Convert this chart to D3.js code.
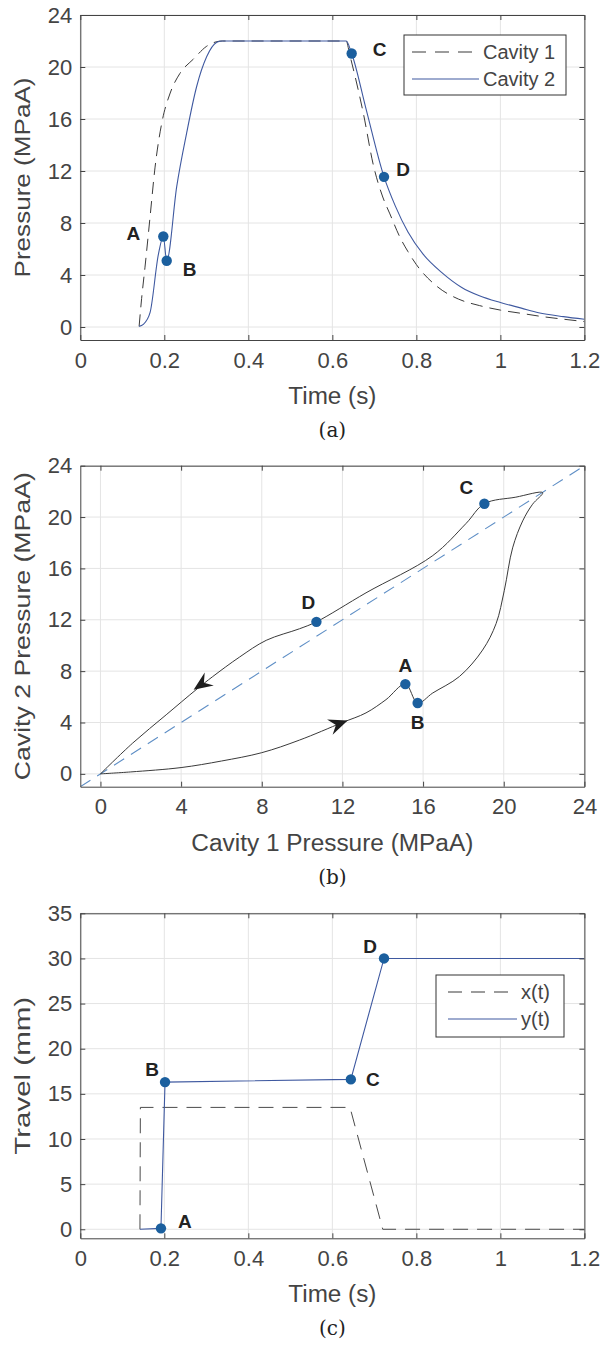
<!DOCTYPE html>
<html><head><meta charset="utf-8">
<script src="https://cdn.jsdelivr.net/npm/d3@7"></script>
<style>body{margin:0;background:#fff}svg{display:block}</style>
</head><body>
<script>
// ---------- Panel (a): pressure vs time ----------
const timeTicks = [0, 0.2, 0.4, 0.6, 0.8, 1.0, 1.2];
const timeTickLabels = ["0", "0.2", "0.4", "0.6", "0.8", "1", "1.2"];
const pressureTicks = [0, 4, 8, 12, 16, 20, 24];
const pressureTickLabels = ["0", "4", "8", "12", "16", "20", "24"];

const cav1Time = [0.140,0.146,0.154,0.166,0.178,0.194,0.214,0.237,0.269,0.301,0.325,0.338,0.633,0.641,0.674,0.698,0.720,0.737,0.761,0.780,0.800,0.850,0.900,0.950,1.000,1.050,1.100,1.150,1.200];
const cav1Pressure = [0.05,2.2,4.6,8.45,12.3,15.7,18.0,19.5,20.6,21.6,21.95,22.0,22.0,21.0,16.4,12.4,10.0,8.7,6.9,5.8,4.8,3.1,2.15,1.65,1.3,1.05,0.8,0.6,0.42];
const cav2Time = [0.140,0.150,0.166,0.186,0.1976,0.2057,0.2295,0.253,0.277,0.301,0.325,0.338,0.633,0.646,0.680,0.723,0.750,0.780,0.816,0.860,0.908,0.950,1.000,1.050,1.091,1.150,1.200];
const cav2Pressure = [0.05,0.2,1.1,5.6,6.96,5.1,10.8,14.9,18.5,20.8,21.9,22.0,22.0,21.04,16.8,11.55,9.3,7.3,5.6,4.2,3.04,2.4,1.88,1.45,1.1,0.8,0.6];
const pointLabels = ["A", "B", "C", "D"];
const markATime = [0.1976, 0.2057, 0.646, 0.723];
const markAPressure = [6.96, 5.1, 21.04, 11.55];

// ---------- Panel (b): cavity 2 vs cavity 1 ----------
const cavTicks = [0, 4, 8, 12, 16, 20, 24];
const cavTickLabels = ["0", "4", "8", "12", "16", "20", "24"];
const loopP1 = [0,1.5,4.0,6.0,8.0,9.87,12.0,13.17,14.16,15.12,15.73,16.48,17.8,18.95,19.62,20.03,20.44,20.94,21.43,21.93,20.6,19.04,18.13,16.48,13.17,10.71,9.87,8.22,6.9,5.57,4.74,3.26,1.6,0];
const loopP2 = [0,0.15,0.49,1.0,1.65,2.63,4.0,4.75,5.78,6.99,5.52,6.3,7.58,9.64,11.7,14.3,17.6,19.7,21.0,21.9,21.55,21.04,19.5,17.0,14.1,11.84,11.3,10.4,9.1,7.58,6.55,4.6,2.4,0];
const diagP = [-1, 24];
const markBP1 = [15.12, 15.73, 19.04, 10.71];
const markBP2 = [6.99, 5.52, 21.04, 11.84];
const arrowP1 = [12.26, 4.62];
const arrowP2 = [4.15, 6.55];
const arrowFromP1 = [12.0, 5.57];
const arrowFromP2 = [4.0, 7.58];

// ---------- Panel (c): travel vs time ----------
const travelTicks = [0, 5, 10, 15, 20, 25, 30, 35];
const travelTickLabels = ["0", "5", "10", "15", "20", "25", "30", "35"];
const xTravelTime = [0.142, 0.143, 0.642, 0.720, 1.2];
const xTravelValue = [0, 13.5, 13.5, 0, 0];
const yTravelTime = [0.142, 0.192, 0.2017, 0.644, 0.723, 1.2];
const yTravelValue = [0, 0.1, 16.3, 16.6, 30.0, 30.0];
const markCTime = [0.192, 0.2017, 0.644, 0.723];
const markCValue = [0.1, 16.3, 16.6, 30.0];

// ---------- drawing ----------
const W = 603, H = 1345;
const svg = d3.select("body").append("svg").attr("width", W).attr("height", H);
const FONT = "'Liberation Sans', Arial, Helvetica, sans-serif";
const TXT = "#444";
const BLUE_LINE = "#3f59a0";
const MARK = "#1b5f9e";

const L = 80.3, R = 584.4;

function panel(o) {
  const g = svg.append("g");
  const x = d3.scaleLinear().domain(o.xDom).range([L, R]);
  const y = d3.scaleLinear().domain(o.yDom).range([o.bottom, o.top]);
  const id = "clip" + o.key;
  svg.append("clipPath").attr("id", id).append("rect")
    .attr("x", L).attr("y", o.top).attr("width", R - L).attr("height", o.bottom - o.top);
  g.append("g").selectAll("line").data(o.xTicks).join("line")
    .attr("x1", d => x(d)).attr("x2", d => x(d)).attr("y1", o.top).attr("y2", o.bottom)
    .attr("stroke", "#e4e4e4").attr("stroke-width", 1);
  g.append("g").selectAll("line").data(o.yTicks).join("line")
    .attr("y1", d => y(d)).attr("y2", d => y(d)).attr("x1", L).attr("x2", R)
    .attr("stroke", "#e4e4e4").attr("stroke-width", 1);
  const plot = g.append("g").attr("clip-path", `url(#${id})`);
  const ax = (gen, tr) => {
    const a = g.append("g").attr("transform", tr).call(gen);
    a.selectAll("path.domain").attr("stroke", "#444");
    a.selectAll(".tick line").attr("stroke", "#444");
    a.selectAll("text").attr("fill", TXT).style("font-family", FONT).style("font-size", "22px");
    return a;
  };
  ax(d3.axisBottom(x).tickValues(o.xTicks).tickFormat((d, i) => o.xLabels[i]).tickSize(-5).tickSizeOuter(0).tickPadding(12), `translate(0,${o.bottom})`);
  ax(d3.axisTop(x).tickValues(o.xTicks).tickFormat("").tickSize(-5).tickSizeOuter(0), `translate(0,${o.top})`);
  ax(d3.axisLeft(y).tickValues(o.yTicks).tickFormat((d, i) => o.yLabels[i]).tickSize(-5).tickSizeOuter(0).tickPadding(8), `translate(${L},0)`);
  ax(d3.axisRight(y).tickValues(o.yTicks).tickFormat("").tickSize(-5).tickSizeOuter(0), `translate(${R},0)`);
  g.append("text").attr("x", (L + R) / 2).attr("y", o.bottom + 64).attr("text-anchor", "middle")
    .attr("fill", TXT).style("font-family", FONT).style("font-size", "23px")
    .attr("textLength", o.xTitleLen).attr("lengthAdjust", "spacingAndGlyphs").text(o.xTitle);
  const cy = (o.top + o.bottom) / 2;
  g.append("text").attr("transform", `translate(30,${cy}) rotate(-90)`).attr("text-anchor", "middle")
    .attr("fill", TXT).style("font-family", FONT).style("font-size", "22px")
    .attr("textLength", o.yTitleLen).attr("lengthAdjust", "spacingAndGlyphs").text(o.yTitle);
  g.append("text").attr("x", (L + R) / 2).attr("y", o.bottom + 97).attr("text-anchor", "middle")
    .attr("fill", "#222").style("font-family", "'DejaVu Serif', 'Liberation Serif', serif").style("font-size", "20px")
    .text(o.caption);
  return { g, plot, x, y };
}

function markers(p, xs, ys, offs) {
  p.g.append("g").selectAll("circle").data(xs).join("circle")
    .attr("cx", (d, i) => p.x(d)).attr("cy", (d, i) => p.y(ys[i])).attr("r", 5.2)
    .attr("fill", MARK);
  p.g.append("g").selectAll("text").data(xs).join("text")
    .attr("x", (d, i) => p.x(d) + offs[i][0]).attr("y", (d, i) => p.y(ys[i]) + offs[i][1])
    .attr("text-anchor", "middle").attr("dominant-baseline", "central")
    .attr("fill", "#222").style("font-family", FONT).style("font-weight", "bold").style("font-size", "19px")
    .text((d, i) => pointLabels[i]);
}

function legend(p, box, entries) {
  const lg = p.g.append("g");
  lg.append("rect").attr("x", box[0]).attr("y", box[1]).attr("width", box[2]).attr("height", box[3])
    .attr("fill", "#fff").attr("stroke", "#333").attr("stroke-width", 1);
  entries.forEach(e => {
    lg.append("line").attr("x1", e.x1).attr("x2", e.x2).attr("y1", e.y).attr("y2", e.y)
      .attr("stroke", e.color).attr("stroke-width", 1.2).attr("stroke-dasharray", e.dash || null);
    lg.append("text").attr("x", e.x2 + 4).attr("y", e.y).attr("dominant-baseline", "central")
      .attr("fill", TXT).style("font-family", FONT).style("font-size", "20px").text(e.label);
  });
}

// Panel (a)
const pa = panel({ key: "a", top: 15, bottom: 340, xDom: [0, 1.2], yDom: [-1, 24],
  xTicks: timeTicks, xLabels: timeTickLabels, yTicks: pressureTicks, yLabels: pressureTickLabels,
  xTitle: "Time (s)", xTitleLen: 88, yTitle: "Pressure (MPaA)", yTitleLen: 200, caption: "(a)" });
const lineA = d3.line().x(d => pa.x(d[0])).y(d => pa.y(d[1])).curve(d3.curveMonotoneX);
pa.plot.append("path").attr("d", lineA(d3.zip(cav1Time, cav1Pressure)))
  .attr("fill", "none").attr("stroke", "#3a3a3a").attr("stroke-width", 1).attr("stroke-dasharray", "12,7");
pa.plot.append("path").attr("d", lineA(d3.zip(cav2Time, cav2Pressure)))
  .attr("fill", "none").attr("stroke", BLUE_LINE).attr("stroke-width", 1.1);
markers(pa, markATime, markAPressure, [[-30, -3], [23, 9], [28, -4], [19, -7]]);
legend(pa, [404, 35, 162, 60], [
  { label: "Cavity 1", y: 52, x1: 412, x2: 479, color: "#3a3a3a", dash: "14,9" },
  { label: "Cavity 2", y: 79, x1: 412, x2: 479, color: BLUE_LINE }
]);

// Panel (b)
const pb = panel({ key: "b", top: 465.7, bottom: 786.7, xDom: [-1, 24], yDom: [-1, 24],
  xTicks: cavTicks, xLabels: cavTickLabels, yTicks: cavTicks, yLabels: cavTickLabels,
  xTitle: "Cavity 1 Pressure (MPaA)", xTitleLen: 282, yTitle: "Cavity 2 Pressure (MPaA)", yTitleLen: 308, caption: "(b)" });
pb.plot.append("line").attr("x1", pb.x(diagP[0])).attr("y1", pb.y(diagP[0])).attr("x2", pb.x(diagP[1])).attr("y2", pb.y(diagP[1]))
  .attr("stroke", "#5f8fc6").attr("stroke-width", 1.1).attr("stroke-dasharray", "12,8");
const lineB = d3.line().x(d => pb.x(d[0])).y(d => pb.y(d[1])).curve(d3.curveCatmullRom.alpha(0.5));
pb.plot.append("path").attr("d", lineB(d3.zip(loopP1, loopP2)))
  .attr("fill", "none").attr("stroke", "#3a3a3a").attr("stroke-width", 1);
arrowP1.forEach((v, i) => {
  const tx = pb.x(v), ty = pb.y(arrowP2[i]);
  const fx = pb.x(arrowFromP1[i]), fy = pb.y(arrowFromP2[i]);
  const ang = Math.atan2(ty - fy, tx - fx) * 180 / Math.PI;
  pb.g.append("path").attr("d", "M0,0 L-19,-8 L-12.5,0 L-19,8 Z")
    .attr("transform", `translate(${tx},${ty}) rotate(${ang})`).attr("fill", "#1e1e1e");
});
markers(pb, markBP1, markBP2, [[0, -19], [0, 20], [-18, -16], [-8, -19]]);

// Panel (c)
const pc = panel({ key: "c", top: 913.3, bottom: 1238.3, xDom: [0, 1.2], yDom: [-1, 35],
  xTicks: timeTicks, xLabels: timeTickLabels, yTicks: travelTicks, yLabels: travelTickLabels,
  xTitle: "Time (s)", xTitleLen: 88, yTitle: "Travel (mm)", yTitleLen: 158, caption: "(c)" });
const lineC = d3.line().x(d => pc.x(d[0])).y(d => pc.y(d[1]));
pc.plot.append("path").attr("d", lineC(d3.zip(xTravelTime, xTravelValue)))
  .attr("fill", "none").attr("stroke", "#4a4a4a").attr("stroke-width", 1).attr("stroke-dasharray", "15,9");
pc.plot.append("path").attr("d", lineC(d3.zip(yTravelTime, yTravelValue)))
  .attr("fill", "none").attr("stroke", BLUE_LINE).attr("stroke-width", 1.1);
markers(pc, markCTime, markCValue, [[24, -7], [-13, -13], [22, 0], [-14, -12]]);
legend(pc, [436, 975, 128, 62], [
  { label: "x(t)", y: 992, x1: 448, x2: 517, color: "#3a3a3a", dash: "14,9" },
  { label: "y(t)", y: 1019, x1: 448, x2: 517, color: BLUE_LINE }
]);
</script>
</body></html>
